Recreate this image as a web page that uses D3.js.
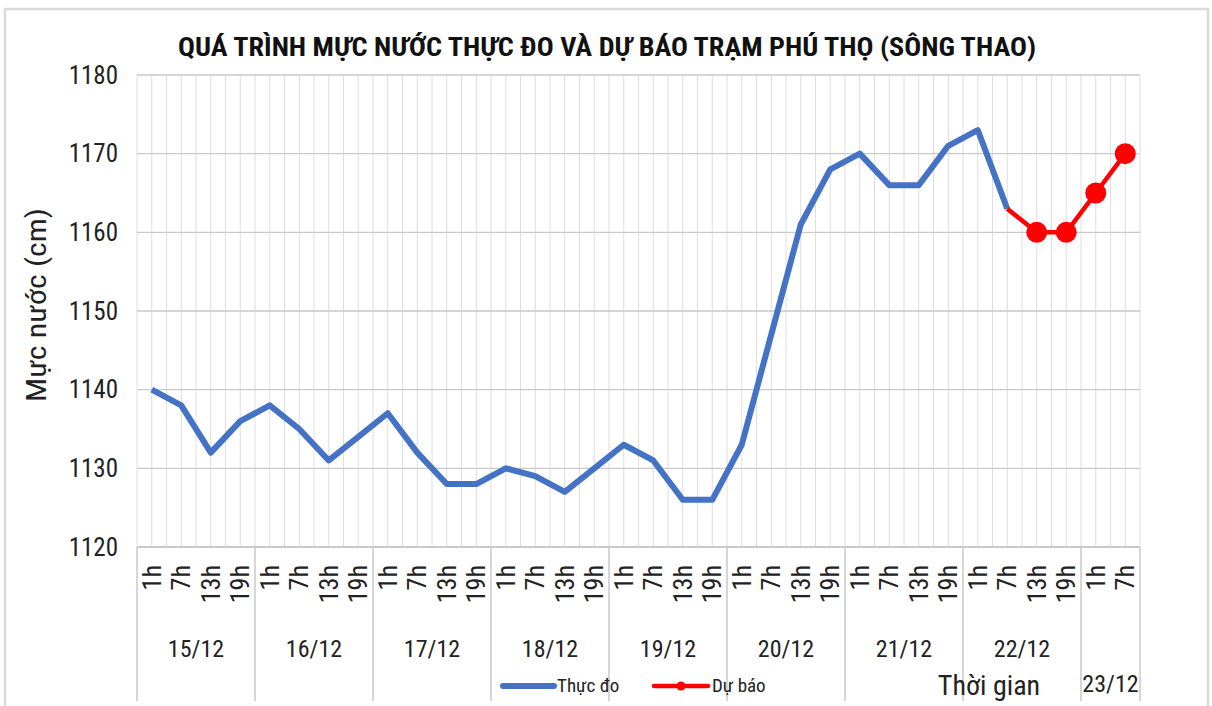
<!DOCTYPE html>
<meta charset="utf-8">
<style>
body { margin: 0; background: #fff; }
svg { display: block; }
text { font-family: "Liberation Sans Narrow", "Roboto Condensed", "Noto Sans", sans-serif; fill: #222; }
.grid-h { stroke: #c9c9c9; stroke-width: 1.3px; }
.grid-v { stroke: #dedede; stroke-width: 1px; }
.sep { stroke: #d6d6d6; stroke-width: 2px; }
</style>
<svg width="1212" height="706"></svg>
<script src="https://d3js.org/d3.v7.min.js"></script>
<script>
// category labels (hour of day) and the day each one belongs to
var hours = ["1h","7h","13h","19h", "1h","7h","13h","19h", "1h","7h","13h","19h",
             "1h","7h","13h","19h", "1h","7h","13h","19h", "1h","7h","13h","19h",
             "1h","7h","13h","19h", "1h","7h","13h","19h", "1h","7h"];
var days = ["15/12","16/12","17/12","18/12","19/12","20/12","21/12","22/12","23/12"];
var perDay = [4,4,4,4,4,4,4,4,2];

// water level (cm)
var thucDo = [1140,1138,1132,1136, 1138,1135,1131,1134, 1137,1132,1128,1128,
              1130,1129,1127,1130, 1133,1131,1126,1126, 1133,1147,1161,1168,
              1170,1166,1166,1171, 1173,1163, null,null,null,null];
var duBao  = [null,null,null,null, null,null,null,null, null,null,null,null,
              null,null,null,null, null,null,null,null, null,null,null,null,
              null,null,null,null, null,1163,1160,1160, 1165,1170];

var yTicks = [1120,1130,1140,1150,1160,1170,1180];

var svg = d3.select("svg");
var pLeft = 137, pRight = 1140, pTop = 75, pBottom = 547;
var fontStack = "\"Liberation Sans Narrow\", \"Roboto Condensed\", \"Noto Sans\", sans-serif";

var idx = d3.range(hours.length);
var x = d3.scaleBand().domain(idx).range([pLeft, pRight]);
var bw = x.bandwidth();
var y = d3.scaleLinear().domain([1120, 1180]).range([pBottom, pTop]);
var cx = function(i) { return x(i) + bw / 2; };

// outer chart frame
svg.append("rect")
    .attr("x", 5).attr("y", 9)
    .attr("width", 1203).attr("height", 710)
    .attr("fill", "none")
    .attr("stroke", "#d9d9d9")
    .attr("stroke-width", 2.5);

// title
svg.append("text")
    .attr("x", 607).attr("y", 56)
    .attr("text-anchor", "middle")
    .attr("textLength", 858)
    .attr("lengthAdjust", "spacingAndGlyphs")
    .style("font-size", "25px")
    .style("font-weight", "bold")
    .style("fill", "#111")
    .text("QUÁ TRÌNH MỰC NƯỚC THỰC ĐO VÀ DỰ BÁO TRẠM PHÚ THỌ (SÔNG THAO)");

// vertical grid: category edges and centres
var vlines = [];
idx.forEach(function(i) { vlines.push(x(i)); vlines.push(cx(i)); });
vlines.push(pRight);
svg.append("g").selectAll("line")
    .data(vlines)
    .enter().append("line")
    .attr("class", "grid-v")
    .attr("x1", function(d) { return d; })
    .attr("x2", function(d) { return d; })
    .attr("y1", pTop).attr("y2", pBottom);

// horizontal grid
svg.append("g").selectAll("line")
    .data(yTicks)
    .enter().append("line")
    .attr("class", "grid-h")
    .attr("x1", pLeft).attr("x2", pRight)
    .attr("y1", function(d) { return y(d); })
    .attr("y2", function(d) { return y(d); });

// y axis
var yAxis = svg.append("g")
    .attr("transform", "translate(" + pLeft + ",0)")
    .call(d3.axisLeft(y).tickValues(yTicks).tickSize(0).tickPadding(19).tickFormat(d3.format("d")));
yAxis.select(".domain").remove();
yAxis.selectAll("text")
    .style("font-size", "25px")
    .style("font-family", fontStack)
    .attr("fill", "#222");

svg.append("text")
    .attr("transform", "translate(46,305) rotate(-90)")
    .attr("text-anchor", "middle")
    .attr("textLength", 194)
    .attr("lengthAdjust", "spacingAndGlyphs")
    .style("font-size", "27px")
    .text("Mực nước (cm)");

// x axis: hour labels
var xAxis = svg.append("g")
    .attr("transform", "translate(0," + pBottom + ")")
    .call(d3.axisBottom(x).tickSize(0).tickFormat(function(i) { return hours[i]; }));
xAxis.select(".domain").remove();
xAxis.selectAll("text")
    .attr("transform", "rotate(-90)")
    .attr("x", -18).attr("y", 0).attr("dy", "0.35em")
    .attr("text-anchor", "end")
    .style("font-size", "26px")
    .style("font-family", fontStack)
    .attr("fill", "#222");

// day groups
var starts = [0];
perDay.forEach(function(n, k) { starts.push(starts[k] + n); });
var sepX = starts.map(function(s) { return s < hours.length ? x(s) : pRight; });

svg.append("g").selectAll("line")
    .data(sepX)
    .enter().append("line")
    .attr("class", "sep")
    .attr("x1", function(d) { return d; })
    .attr("x2", function(d) { return d; })
    .attr("y1", pBottom).attr("y2", 701);

svg.append("line")
    .attr("class", "grid-h")
    .attr("x1", pLeft).attr("x2", pRight)
    .attr("y1", pBottom).attr("y2", pBottom)
    .style("stroke-width", 2);

svg.append("g").selectAll("text")
    .data(days)
    .enter().append("text")
    .attr("x", function(d, k) { return (sepX[k] + sepX[k + 1]) / 2; })
    .attr("y", function(d, k) { return k == days.length - 1 ? 692 : 657; })
    .attr("text-anchor", "middle")
    .style("font-size", "24px")
    .text(function(d) { return d; });

// lines
var line = d3.line()
    .defined(function(d) { return d != null; })
    .x(function(d, i) { return cx(i); })
    .y(function(d) { return y(d); });

svg.append("path")
    .datum(thucDo)
    .attr("fill", "none")
    .attr("stroke", "#4472c4")
    .attr("stroke-width", 6)
    .attr("stroke-linejoin", "round")
    .attr("d", line);

svg.append("path")
    .datum(duBao)
    .attr("fill", "none")
    .attr("stroke", "#ff0000")
    .attr("stroke-width", 4.5)
    .attr("stroke-linejoin", "round")
    .attr("d", line);

// markers on forecast points (skip the first one, it is the last observed)
var firstF = duBao.findIndex(function(d) { return d != null; });
svg.append("g").selectAll("circle")
    .data(duBao.map(function(d, i) { return { v: d, i: i }; })
        .filter(function(d) { return d.v != null && d.i > firstF; }))
    .enter().append("circle")
    .attr("cx", function(d) { return cx(d.i); })
    .attr("cy", function(d) { return y(d.v); })
    .attr("r", 10.5)
    .attr("fill", "#ff0000");

// axis title
svg.append("text")
    .attr("x", 989).attr("y", 695)
    .attr("text-anchor", "middle")
    .style("font-size", "28px")
    .text("Thời gian");

// legend
var lg = svg.append("g");
lg.append("line")
    .attr("x1", 503).attr("x2", 554).attr("y1", 686).attr("y2", 686)
    .attr("stroke", "#4472c4").attr("stroke-width", 6).attr("stroke-linecap", "round");
lg.append("text").attr("x", 557).attr("y", 692).style("font-size", "19px").text("Thực đo");
lg.append("line")
    .attr("x1", 654).attr("x2", 708).attr("y1", 686).attr("y2", 686)
    .attr("stroke", "#ff0000").attr("stroke-width", 4.5).attr("stroke-linecap", "round");
lg.append("circle").attr("cx", 681).attr("cy", 686).attr("r", 4.5).attr("fill", "#ff0000");
lg.append("text").attr("x", 712).attr("y", 692).style("font-size", "19px").text("Dự báo");
</script>
